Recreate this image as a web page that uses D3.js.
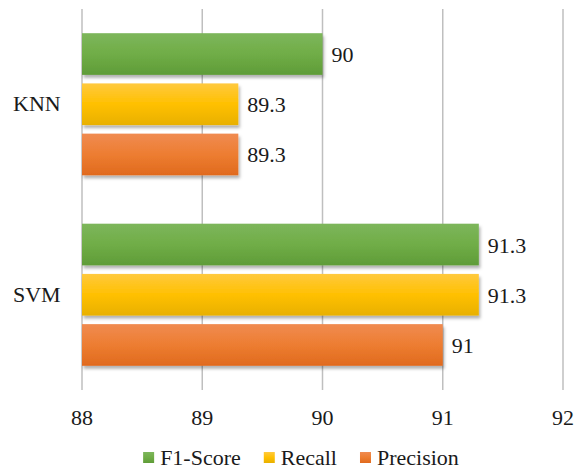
<!DOCTYPE html>
<html>
<head>
<meta charset="utf-8">
<script src="https://cdn.jsdelivr.net/npm/d3@7"></script>
<style>
  html, body { margin: 0; padding: 0; background: #fff; }
  svg { display: block; }
</style>
</head>
<body>
<svg id="chart" width="586" height="469"></svg>
<script>
// Classifier scores (%)
const categories = ["KNN", "SVM"];
const seriesNames = ["F1-Score", "Recall", "Precision"];
const f1Score = [90, 91.3];
const recall = [89.3, 91.3];
const precision = [89.3, 91];
const xTicks = [88, 89, 90, 91, 92];

const seriesValues = { "F1-Score": f1Score, "Recall": recall, "Precision": precision };
const colors = {
  "F1-Score": ["#7db65b", "#70ad47", "#5f9c38"],
  "Recall": ["#ffc93e", "#ffc000", "#e8b000"],
  "Precision": ["#f08b51", "#ed7d31", "#e06a1e"]
};

const FS = 22;
const FONT = "'Liberation Serif', 'Times New Roman', Times, 'DejaVu Serif', serif";
const svg = d3.select("#chart");
const margin = { left: 82, right: 23, top: 9, bottom: 79 };
const W = 586, H = 469;
const plotW = W - margin.left - margin.right;
const plotH = H - margin.top - margin.bottom;

const x = d3.scaleLinear().domain([88, 92]).range([margin.left, margin.left + plotW]);
const y = d3.scaleBand().domain(categories).range([margin.top, margin.top + plotH]).paddingInner(0).paddingOuter(0);
const groupH = y.bandwidth() * 0.746;
const yInner = d3.scaleBand().domain(seriesNames).range([0, groupH]).paddingInner(0.17).paddingOuter(0);

const defs = svg.append("defs");
seriesNames.forEach((s, i) => {
  const g = defs.append("linearGradient").attr("id", "grad" + i)
    .attr("x1", 0).attr("y1", 0).attr("x2", 0).attr("y2", 1);
  g.append("stop").attr("offset", "0%").attr("stop-color", colors[s][0]);
  g.append("stop").attr("offset", "50%").attr("stop-color", colors[s][1]);
  g.append("stop").attr("offset", "100%").attr("stop-color", colors[s][2]);
});
const shadow = defs.append("filter").attr("id", "shadow")
  .attr("x", "-5%").attr("y", "-20%").attr("width", "115%").attr("height", "160%");
shadow.append("feDropShadow").attr("dx", 1.5).attr("dy", 3).attr("stdDeviation", 1.8)
  .attr("flood-color", "#000").attr("flood-opacity", 0.3);

// Vertical gridlines
svg.append("g").selectAll("line").data(xTicks).join("line")
  .attr("x1", d => x(d)).attr("x2", d => x(d))
  .attr("y1", margin.top).attr("y2", margin.top + plotH)
  .attr("stroke", "#bfbfbf").attr("stroke-width", 1.5);

// Bars with value labels
const groups = svg.append("g").selectAll("g").data(categories).join("g")
  .attr("transform", c => `translate(0,${y(c) + (y.bandwidth() - groupH) / 2})`);

function label(sel) {
  return sel.style("font-family", FONT).style("font-size", FS + "px").attr("fill", "#1a1a1a");
}

groups.each(function (c, ci) {
  const g = d3.select(this);
  seriesNames.forEach((s, si) => {
    const v = seriesValues[s][ci];
    g.append("rect")
      .attr("x", x(88))
      .attr("y", yInner(s))
      .attr("width", x(v) - x(88))
      .attr("height", yInner.bandwidth())
      .attr("fill", `url(#grad${si})`)
      .attr("filter", "url(#shadow)");
    g.append("text")
      .attr("x", x(v) + 9)
      .attr("y", yInner(s) + yInner.bandwidth() / 2 + 8)
      .call(label)
      .text(v);
  });
});

// Category labels
svg.append("g").selectAll("text").data(categories).join("text")
  .attr("x", 13)
  .attr("y", c => y(c) + y.bandwidth() / 2 + 7)
  .call(label)
  .text(c => c);

// X axis tick labels
svg.append("g").selectAll("text").data(xTicks).join("text")
  .attr("x", d => x(d))
  .attr("y", margin.top + plotH + 35)
  .attr("text-anchor", "middle")
  .call(label)
  .text(d => d);

// Legend
const legend = svg.append("g");
const items = legend.selectAll("g").data(seriesNames).join("g");
items.append("rect").attr("width", 11).attr("height", 11).attr("y", -13)
  .attr("fill", (s, i) => `url(#grad${i})`);
items.append("text").attr("x", 17).attr("y", 0).call(label).text(s => s);
const widths = [];
items.each(function () {
  widths.push(17 + d3.select(this).select("text").node().getComputedTextLength());
});
const gap = 23;
const total = d3.sum(widths) + gap * (widths.length - 1);
let lx = (W - total) / 2 + 8;
items.attr("transform", (s, i) => {
  const t = `translate(${lx},465)`;
  lx += widths[i] + gap;
  return t;
});
</script>
</body>
</html>
